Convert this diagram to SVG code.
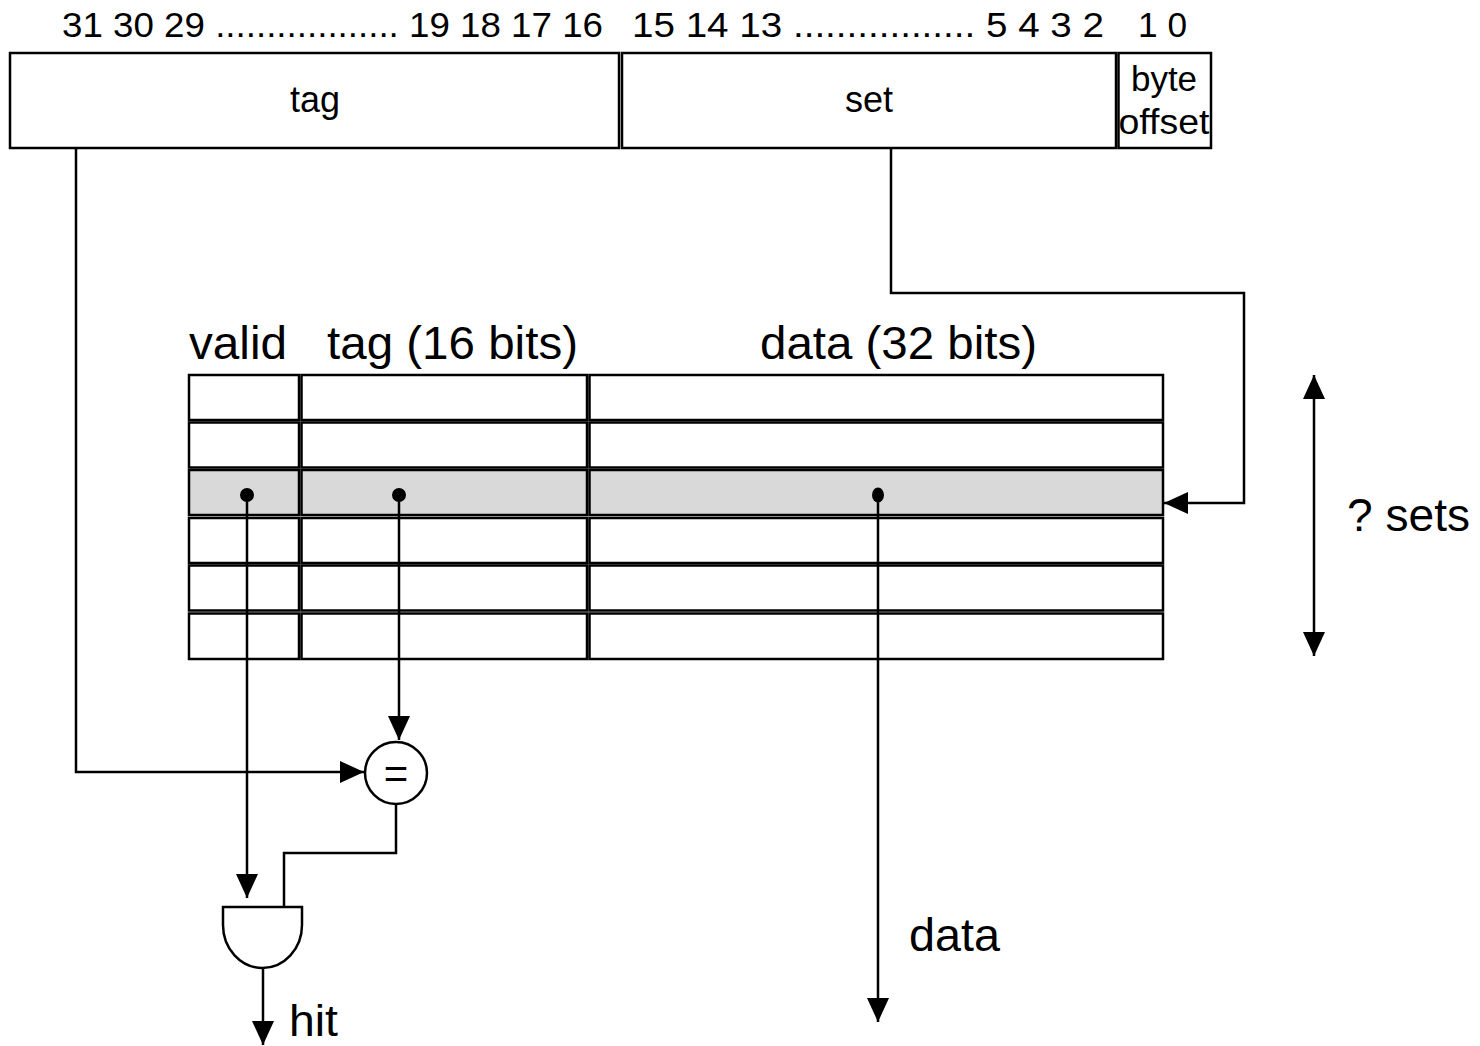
<svg xmlns="http://www.w3.org/2000/svg" width="1480" height="1046" viewBox="0 0 1480 1046">
<defs>
<style>
.t{font-family:"Liberation Sans",Arial,sans-serif;fill:#000}
.box{fill:#fff;stroke:#000;stroke-width:2.5}
.cell{fill:#fff;stroke:#000;stroke-width:2.5}
.sel{fill:#d9d9d9;stroke:#000;stroke-width:2.5}
.ln{fill:none;stroke:#000;stroke-width:2.5}
</style>
<marker id="ah" markerUnits="userSpaceOnUse" markerWidth="24" markerHeight="22" refX="24" refY="11" orient="auto">
<path d="M0,0 L24,11 L0,22 z" fill="#000"/>
</marker>
<marker id="ahs" markerUnits="userSpaceOnUse" markerWidth="24" markerHeight="22" refX="0" refY="11" orient="auto">
<path d="M24,0 L0,11 L24,22 z" fill="#000"/>
</marker>
</defs>
<rect width="1480" height="1046" fill="#fff"/>

<g id="bit-numbers">
<text class="t" x="62" y="37" font-size="35" textLength="541" lengthAdjust="spacingAndGlyphs">31 30 29 .................. 19 18 17 16</text>
<text class="t" x="632" y="37" font-size="35" textLength="472" lengthAdjust="spacingAndGlyphs">15 14 13 ................. 5 4 3 2</text>
<text class="t" x="1138" y="37" font-size="35" textLength="49" lengthAdjust="spacingAndGlyphs">1 0</text>
</g>

<g id="addr-tag">
<rect class="box" x="10" y="53" width="609" height="95"/>
<text class="t" x="315" y="112" font-size="36" text-anchor="middle">tag</text>
</g>
<g id="addr-set">
<rect class="box" x="622" y="53" width="494" height="95"/>
<text class="t" x="869" y="112" font-size="36" text-anchor="middle">set</text>
</g>
<g id="addr-offset">
<rect class="box" x="1118.5" y="53" width="92.5" height="95"/>
<text class="t" x="1164" y="91" font-size="35" text-anchor="middle">byte</text>
<text class="t" x="1164" y="134" font-size="35" text-anchor="middle" textLength="91" lengthAdjust="spacingAndGlyphs">offset</text>
</g>

<g id="headers">
<text class="t" x="189" y="359" font-size="46" textLength="98" lengthAdjust="spacingAndGlyphs">valid</text>
<text class="t" x="327" y="359" font-size="46" textLength="251" lengthAdjust="spacingAndGlyphs">tag (16 bits)</text>
<text class="t" x="760" y="359" font-size="46" textLength="277" lengthAdjust="spacingAndGlyphs">data (32 bits)</text>
</g>

<g id="cache">
<rect class="cell" x="189" y="375" width="110" height="45"/>
<rect class="cell" x="301.5" y="375" width="285.5" height="45"/>
<rect class="cell" x="589.5" y="375" width="573.5" height="45"/>
<rect class="cell" x="189" y="422.5" width="110" height="45"/>
<rect class="cell" x="301.5" y="422.5" width="285.5" height="45"/>
<rect class="cell" x="589.5" y="422.5" width="573.5" height="45"/>
<rect class="sel" x="189" y="470" width="110" height="45"/>
<rect class="sel" x="301.5" y="470" width="285.5" height="45"/>
<rect class="sel" x="589.5" y="470" width="573.5" height="45"/>
<rect class="cell" x="189" y="518" width="110" height="45"/>
<rect class="cell" x="301.5" y="518" width="285.5" height="45"/>
<rect class="cell" x="589.5" y="518" width="573.5" height="45"/>
<rect class="cell" x="189" y="565.5" width="110" height="45"/>
<rect class="cell" x="301.5" y="565.5" width="285.5" height="45"/>
<rect class="cell" x="589.5" y="565.5" width="573.5" height="45"/>
<rect class="cell" x="189" y="613.5" width="110" height="45.5"/>
<rect class="cell" x="301.5" y="613.5" width="285.5" height="45.5"/>
<rect class="cell" x="589.5" y="613.5" width="573.5" height="45.5"/>
</g>

<g id="comparator">
<circle cx="396" cy="773" r="31" fill="#fff" stroke="#000" stroke-width="2.5"/>
<text class="t" x="396" y="788" font-size="42" text-anchor="middle">=</text>
</g>

<g id="and-gate">
<path d="M223,907 H302 V925 A39.5,43 0 0 1 223,925 Z" fill="#fff" stroke="#000" stroke-width="2.5"/>
</g>

<g id="connectors">
<path class="ln" d="M76,148 V772 H364" marker-end="url(#ah)"/>
<path class="ln" d="M891,148 V293 H1244 V503 H1164" marker-end="url(#ah)"/>
<path class="ln" d="M247,495 V898" marker-end="url(#ah)"/>
<path class="ln" d="M399,495 V740" marker-end="url(#ah)"/>
<path class="ln" d="M878,495 V1022" marker-end="url(#ah)"/>
<path class="ln" d="M396,804 V853 H284 V907"/>
<path class="ln" d="M263,968 V1045" marker-end="url(#ah)"/>
<path class="ln" d="M1314,375 V656" marker-start="url(#ahs)" marker-end="url(#ah)"/>
<circle cx="247" cy="495" r="7" fill="#000"/>
<circle cx="399" cy="495" r="7" fill="#000"/>
<ellipse cx="878" cy="495" rx="6" ry="7.5" fill="#000"/>
</g>

<g id="labels">
<text class="t" x="1347" y="531" font-size="46" textLength="123" lengthAdjust="spacingAndGlyphs">? sets</text>
<text class="t" x="909" y="951" font-size="46" textLength="91" lengthAdjust="spacingAndGlyphs">data</text>
<text class="t" x="289" y="1036" font-size="44" textLength="49" lengthAdjust="spacingAndGlyphs">hit</text>
</g>
</svg>
